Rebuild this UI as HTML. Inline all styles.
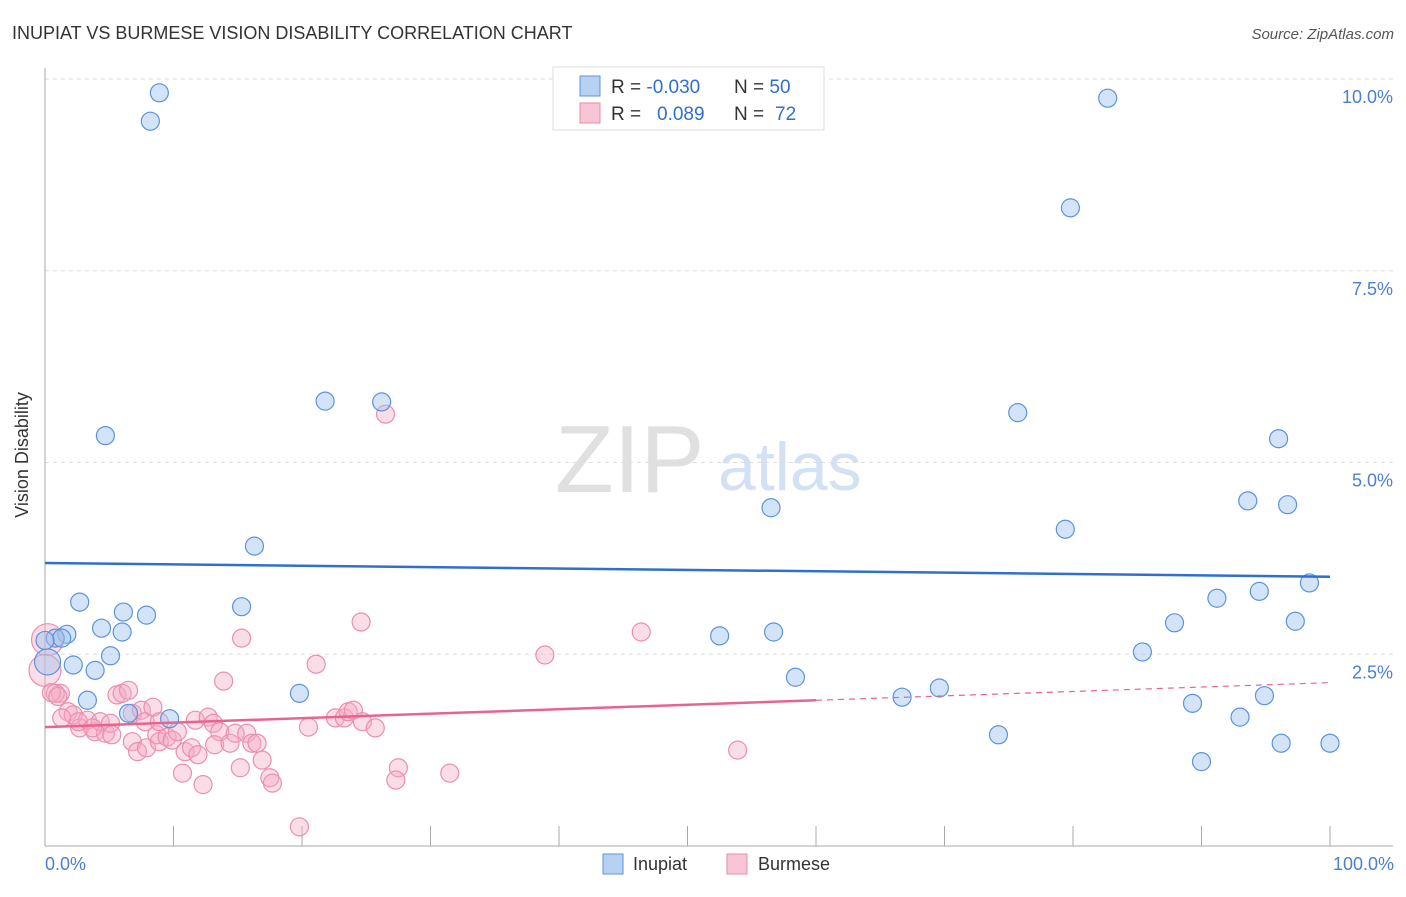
<!DOCTYPE html>
<html><head><meta charset="utf-8"><style>
body{margin:0;background:#fff;font-family:"Liberation Sans",sans-serif;}
svg text{font-family:"Liberation Sans",sans-serif;}
</style></head><body>
<svg id="chart" width="1406" height="892" xmlns="http://www.w3.org/2000/svg">
<text x="12" y="39" font-size="18" fill="#333">INUPIAT VS BURMESE VISION DISABILITY CORRELATION CHART</text>
<text x="1394" y="39" font-size="15" fill="#555" font-style="italic" text-anchor="end">Source: ZipAtlas.com</text>
<g>
<text x="555" y="492" font-size="96" font-family="Liberation Serif,serif" fill="#e0e0e0">ZIP</text>
<text x="718" y="490" font-size="68" fill="#d2e2f4">atlas</text>
</g>
<g id="grid"></g>
<g id="axes"></g>
<g id="pinkpts"></g>
<g id="bluepts"></g>
<g id="trends"></g>
<text x="28" y="455" font-size="18" fill="#333" transform="rotate(-90 28 455)" text-anchor="middle">Vision Disability</text>
<text x="45" y="870" font-size="18" fill="#4a7fd4">0.0%</text>
<text x="1394" y="870" font-size="18" fill="#4a7fd4" text-anchor="end">100.0%</text>
<g>
<rect x="553" y="67" width="271" height="63" fill="#fff" stroke="#ddd"/>
<rect x="580" y="76" width="20" height="20" fill="#b7d1f3" stroke="#5b93dd"/>
<rect x="580" y="103" width="20" height="20" fill="#f8c5d5" stroke="#e88aa8"/>
<text x="611" y="93" font-size="19" fill="#333">R = <tspan fill="#2f6fd0">-0.030</tspan></text>
<text x="734" y="93" font-size="19" fill="#333">N = <tspan fill="#2f6fd0">50</tspan></text>
<text x="611" y="120" font-size="19" fill="#333">R = <tspan fill="#2f6fd0" x="657">0.089</tspan></text>
<text x="734" y="120" font-size="19" fill="#333">N = <tspan fill="#2f6fd0" x="775">72</tspan></text>
</g>
<g>
<rect x="603" y="854" width="20" height="20" fill="#b7d1f3" stroke="#5b93dd"/>
<text x="633" y="870" font-size="18" fill="#333">Inupiat</text>
<rect x="727" y="854" width="20" height="20" fill="#f8c5d5" stroke="#e88aa8"/>
<text x="758" y="870" font-size="18" fill="#333">Burmese</text>
</g>
</svg>
<script>
const yTicks=[2.5,5.0,7.5,10.0];
const yTickLabels=["2.5%","5.0%","7.5%","10.0%"];
const xTicks=[10,20,30,40,50,60,70,80,90,100];
const inupiatX=[8.9,8.2,82.7,79.8,21.8,26.2,75.7,4.7,96.0,56.5,93.6,96.7,79.4,16.3,2.7,15.3,6.1,7.9,91.2,94.5,98.4,1.7,4.4,6.0,52.5,56.7,87.9,97.3,5.1,2.2,3.9,85.4,58.4,19.8,3.3,69.6,66.7,94.9,89.3,6.5,9.7,93.0,74.2,96.2,100,90.0,0.8,1.3,0.2,0.0];
const inupiatY=[9.82,9.45,9.75,8.32,5.80,5.79,5.65,5.35,5.31,4.41,4.50,4.45,4.13,3.91,3.18,3.12,3.05,3.01,3.23,3.32,3.43,2.76,2.84,2.79,2.74,2.79,2.91,2.93,2.48,2.36,2.29,2.53,2.20,1.99,1.90,2.06,1.94,1.96,1.86,1.73,1.66,1.68,1.45,1.34,1.34,1.10,2.71,2.71,2.40,2.68];
const burmeseX=[26.5,24.6,46.4,15.3,38.9,21.1,13.9,0.2,0.0,1.2,0.8,1.8,2.2,2.7,3.3,3.9,4.3,4.7,5.1,5.2,5.6,6.0,6.5,6.8,7.5,7.8,8.4,6.8,7.2,7.9,8.7,8.9,9.5,9.9,10.3,10.7,10.9,11.4,11.7,11.9,12.3,12.7,13.1,13.6,13.2,14.4,14.8,15.2,15.7,16.1,16.5,16.9,17.5,17.7,20.5,22.6,23.3,23.6,24.0,24.7,25.7,27.5,27.3,31.5,19.8,53.9,1.3,2.6,3.7,8.9,0.5,1.0];
const burmeseY=[5.63,2.92,2.79,2.71,2.49,2.37,2.15,2.69,2.29,1.99,1.99,1.75,1.71,1.54,1.64,1.49,1.62,1.47,1.60,1.45,1.97,1.99,2.03,1.73,1.77,1.62,1.81,1.36,1.23,1.28,1.45,1.36,1.42,1.38,1.49,0.95,1.23,1.28,1.64,1.19,0.80,1.68,1.60,1.49,1.32,1.34,1.47,1.02,1.47,1.34,1.34,1.12,0.89,0.82,1.55,1.67,1.67,1.75,1.77,1.62,1.54,1.02,0.86,0.95,0.25,1.25,1.67,1.62,1.54,1.62,2.0,1.95];
const inupiatTrend=[3.69,3.51];
const burmeseTrend=[1.55,1.90,2.13];
const burmeseTrendX=[0,60,100];
const NS="http://www.w3.org/2000/svg";
const X0=45,X1=1330,Y0=846,YS=76.7;
function sx(v){return X0+(X1-X0)*v/100;}
function sy(v){return Y0-v*YS;}
function mk(tag,attrs,parent){const e=document.createElementNS(NS,tag);for(const k in attrs)e.setAttribute(k,attrs[k]);parent.appendChild(e);return e;}
const grid=document.getElementById('grid');
yTicks.forEach((t,i)=>{
 const l=mk('line',{x1:45,x2:1393,y1:sy(t),y2:sy(t),stroke:'#ddd','stroke-dasharray':'4,4'},grid);
 
 
 const tx=mk('text',{x:1393,y:sy(t)+24,'font-size':18,fill:'#4a7fd4','text-anchor':'end'},grid);
 tx.textContent=yTickLabels[i];
 
 
});
const axes=document.getElementById('axes');
mk('line',{x1:45,x2:45,y1:68,y2:846,stroke:'#aaa'},axes);
mk('line',{x1:45,x2:1393,y1:846,y2:846,stroke:'#aaa'},axes);
xTicks.forEach(t=>{
 const l=mk('line',{x1:sx(t),x2:sx(t),y1:826,y2:846,stroke:'#aaa'},axes);
 
 
});
const pp=document.getElementById('pinkpts');
burmeseX.forEach((x,i)=>{
 const big=(i===7||i===8);
 const c=mk('circle',{cx:sx(x),cy:sy(burmeseY[i]),r:big?16:9,fill:'rgba(245,170,195,0.4)',stroke:'#ea8fae','stroke-width':1.2},pp);
 
 
});
const bp=document.getElementById('bluepts');
inupiatX.forEach((x,i)=>{
 const big=(i===48);
 const c=mk('circle',{cx:sx(x),cy:sy(inupiatY[i]),r:big?13:9,fill:'rgba(160,195,240,0.45)',stroke:'#5b93dd','stroke-width':1.2},bp);
 
 
});
const tr=document.getElementById('trends');
const bl=mk('line',{x1:sx(0),y1:sy(inupiatTrend[0]),x2:sx(100),y2:sy(inupiatTrend[1]),stroke:'#2f6fd0','stroke-width':2.5},tr);


const pl=mk('line',{x1:sx(burmeseTrendX[0]),y1:sy(burmeseTrend[0]),x2:sx(burmeseTrendX[1]),y2:sy(burmeseTrend[1]),stroke:'#e8648f','stroke-width':2.5},tr);


const pd=mk('line',{x1:sx(burmeseTrendX[1]),y1:sy(burmeseTrend[1]),x2:sx(burmeseTrendX[2]),y2:sy(burmeseTrend[2]),stroke:'#e8648f','stroke-width':1.2,'stroke-dasharray':'6,5'},tr);


</script>
</body></html>
